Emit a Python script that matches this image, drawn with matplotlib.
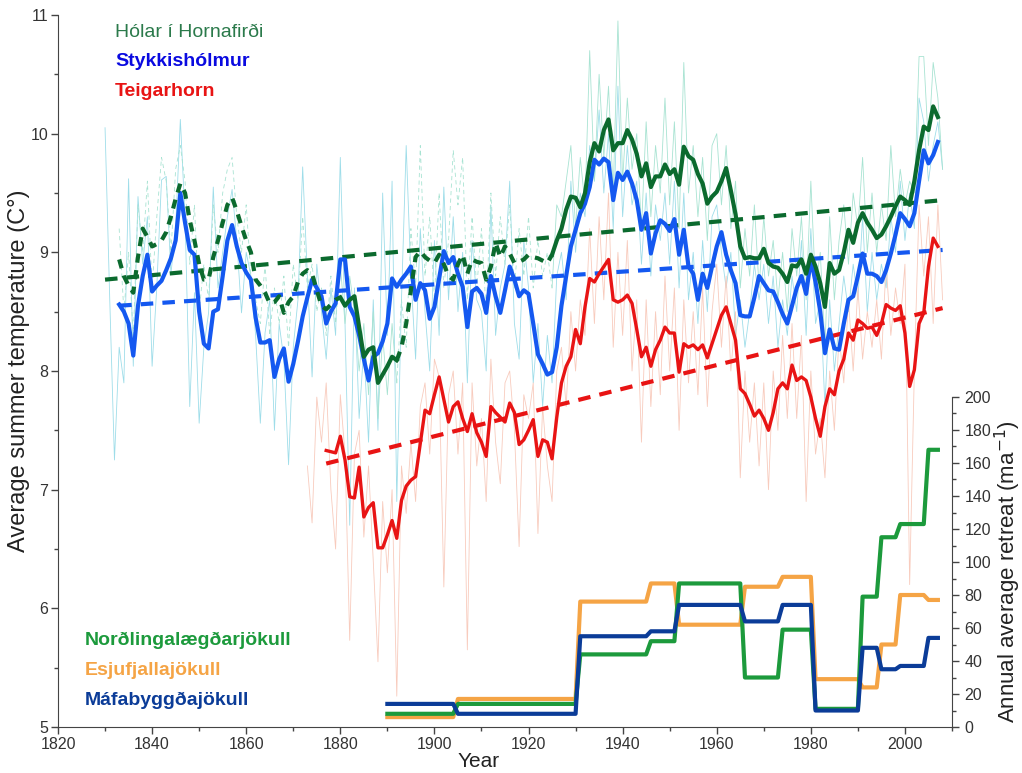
import numpy as np
import matplotlib
matplotlib.use("Agg")
import matplotlib.pyplot as plt

plt.rcParams['font.family'] = ['Liberation Sans', 'DejaVu Sans']

# ---------------- DATA ----------------
# Annual summer temperature, Stykkisholmur (thin cyan), 1830-2008
sty_annual_start = 1830
sty_annual = [
    10.05, 8.6, 7.25, 8.2, 7.9, 9.62, 8.04, 9.47, 8.9, 9.3,
    8.04, 8.71, 9.61, 9.64, 8.82, 9.2, 10.12, 9.3, 7.7, 8.66,
    7.56, 8.2, 8.49, 9.55, 8.7, 9.0, 9.3, 9.53, 9.1, 8.49,
    9.0, 8.8, 8.3, 7.56, 8.32, 8.6, 7.5, 8.4, 8.1, 7.21,
    8.2, 8.6, 9.72, 8.8, 7.95, 8.9, 8.5, 8.1, 8.7, 8.3,
    9.8, 8.4, 6.7, 8.7, 7.6, 8.2, 7.4, 8.6, 7.5, 9.5,
    8.3, 9.6, 6.9, 8.6, 9.9, 8.8, 8.1, 9.2, 8.5, 8.0,
    9.1, 8.3, 9.55, 8.6, 9.3, 8.5, 9.0, 7.9, 9.1, 8.6,
    8.5, 8.0, 9.4, 8.3, 8.7, 8.9, 9.6, 8.4, 8.1, 9.1,
    8.7, 7.9, 8.4, 7.7, 8.3, 7.9, 8.8, 9.0, 8.6, 9.6,
    9.0, 9.5, 9.3, 9.9, 9.6, 10.2, 9.5, 10.0, 9.2, 10.4,
    9.3, 9.9, 9.4, 9.6, 8.9, 9.5, 8.8, 9.4, 9.1, 9.5,
    8.9, 9.6, 8.7, 9.5, 8.6, 9.0, 8.4, 9.1, 8.5, 9.3,
    9.4, 9.0, 8.7, 9.0, 8.3, 8.6, 8.2, 8.5, 8.9, 8.6,
    8.9, 8.4, 8.8, 8.2, 8.6, 8.3, 8.8, 8.5, 9.1, 8.3,
    9.2, 8.4, 8.6, 7.7, 8.6, 8.0, 8.4, 8.8, 8.5, 8.9,
    8.6, 9.3, 8.5, 9.0, 8.6, 8.9, 8.7, 9.3, 9.0, 9.6,
    9.1, 9.5, 9.2, 10.3, 10.1, 9.6, 9.9, 10.1, 9.7,
]

# Annual summer temperature, Holar i Hornafirdi (thin teal), 1833-2008
hol_annual_start = 1833
hol_annual = [
    9.2, 8.5, 9.0, 8.3, 9.4, 9.0, 9.6,
    8.7, 9.3, 9.8, 9.6, 9.0, 9.7, 9.9, 9.6, 8.9, 9.4,
    8.5, 8.9, 8.6, 9.4, 9.0, 9.5, 9.7, 9.8, 9.3, 9.0,
    9.4, 8.8, 8.6, 8.4, 8.9, 8.3, 8.7, 8.4, 8.8, 8.2,
    8.9, 8.6, 9.3, 8.7, 8.9, 8.5, 8.7, 8.3, 8.8, 8.4,
    8.9, 8.4, 8.8, 8.5, 8.0, 8.4, 7.8, 8.5, 7.6, 8.3,
    7.8, 8.4, 7.9, 8.6, 8.2, 9.2, 8.7, 9.9, 8.8, 9.3,
    8.6, 9.5, 8.7, 9.1, 9.86, 9.4, 9.8, 8.6, 9.3, 8.7,
    9.2, 8.5, 9.5, 8.8, 9.3, 8.9, 9.4, 8.7, 9.2, 8.8,
    9.3, 8.7, 9.1, 8.8, 9.0, 8.7, 9.4, 9.3, 9.6, 9.9,
    9.2, 9.8, 9.4, 10.7, 9.6, 10.5, 9.8, 10.4, 9.5, 10.95,
    9.6, 10.3, 9.7, 10.0, 9.2, 10.1, 9.3, 9.9, 9.5, 10.3,
    9.4, 10.1, 9.2, 10.6, 9.5, 9.9, 9.3, 9.8, 9.1, 9.9,
    10.0, 9.4, 9.9, 9.2, 9.6, 8.7, 9.2, 8.8, 9.4, 8.7,
    9.3, 8.8, 9.1, 8.6, 9.0, 8.5, 9.2, 8.8, 9.3, 8.6,
    9.6, 8.7, 9.0, 8.2, 9.3, 8.6, 9.1, 9.4, 8.9, 9.5,
    9.2, 9.8, 9.0, 9.5, 9.0, 9.4, 9.1, 9.9, 9.3, 9.7,
    9.4, 9.6, 9.5, 10.65, 10.65, 9.9, 10.6, 10.3, 9.7,
]

# Annual summer temperature, Teigarhorn (thin salmon), 1873-2008
tei_annual_start = 1873
tei_annual = [
    7.2, 6.72, 7.78, 7.4, 7.9, 7.0, 6.5,
    7.8, 7.3, 5.73, 7.3, 7.5, 6.6, 7.2, 6.4, 5.55, 6.9,
    6.3, 7.0, 5.26, 7.2, 6.8, 7.4, 6.9, 7.7, 7.9, 7.3,
    8.1, 7.95, 6.18, 7.8, 8.0, 7.3, 7.9, 5.65, 7.9, 7.2,
    7.6, 6.9, 8.1, 7.4, 7.05, 7.9, 8.0, 7.5, 6.52, 7.8,
    7.6, 7.9, 6.63, 7.7, 7.2, 6.9, 8.0, 8.2, 7.7, 8.5,
    8.0, 8.6, 8.3, 9.2, 8.4, 9.3, 8.6, 9.5, 8.2, 9.0,
    8.3, 9.1, 8.0, 8.6, 7.4, 8.6, 7.7, 8.5, 7.8, 8.8,
    8.0, 8.7, 7.5, 8.6, 7.9, 8.5, 7.8, 8.7, 7.7, 8.5,
    8.9, 8.2, 8.8, 8.0, 8.5, 7.1, 8.0, 7.4, 7.9, 7.2,
    7.9, 7.0, 8.0, 7.5, 8.3, 7.6, 8.4, 7.6, 8.3, 6.9,
    8.0, 7.3, 7.6, 7.1, 8.0, 7.5, 8.3, 7.9, 8.6, 8.0,
    8.7, 8.1, 8.5, 8.2, 8.6, 8.1, 8.9, 8.3, 8.7, 8.4,
    8.9, 6.2, 8.0, 9.4, 8.8, 9.3, 8.4, 9.4, 8.6,
]

# Smoothed series (thick lines)
sty_smooth_start = 1833
sty_smooth = [
    8.56, 8.50, 8.40, 8.13, 8.55, 8.80, 8.98,
    8.67, 8.72, 8.76, 8.85, 8.95, 9.10, 9.50, 9.25, 9.02, 8.98,
    8.50, 8.23, 8.19, 8.50, 8.52, 8.80, 9.10, 9.23, 9.05, 8.91,
    8.83, 8.77, 8.45, 8.24, 8.24, 8.26, 7.95, 8.10, 8.19, 7.91,
    8.06, 8.25, 8.46, 8.62, 8.77, 8.70, 8.63, 8.40, 8.50, 8.57,
    8.94, 8.94, 8.54, 8.46, 8.30, 8.10, 7.92, 8.12, 8.15, 8.25,
    8.40, 8.78, 8.71, 8.77, 8.82, 8.88, 8.60, 8.74, 8.68, 8.44,
    8.54, 8.78, 9.01, 8.91, 8.96, 8.82, 8.71, 8.37, 8.67, 8.70,
    8.65, 8.49, 8.80, 8.63, 8.49, 8.68, 8.88, 8.77, 8.63, 8.68,
    8.65, 8.40, 8.14, 8.06, 7.97, 7.99, 8.20, 8.55, 8.80, 9.05,
    9.19, 9.33, 9.41, 9.55, 9.78, 9.74, 9.79, 9.76, 9.44, 9.67,
    9.61, 9.68, 9.58, 9.44, 9.19, 9.33, 8.99, 9.16, 9.27, 9.24,
    9.18, 9.28, 8.98, 9.19, 8.88, 8.82, 8.60, 8.82, 8.70, 8.88,
    9.05, 9.17, 8.98, 8.85, 8.74, 8.47, 8.46, 8.46, 8.62, 8.80,
    8.74, 8.68, 8.67, 8.58, 8.48, 8.40, 8.55, 8.70, 8.80, 8.65,
    8.94, 8.75, 8.50, 8.15, 8.35, 8.19, 8.18, 8.40, 8.60, 8.63,
    8.80, 8.99, 8.82, 8.82, 8.80, 8.75, 8.85, 8.99, 9.15, 9.33,
    9.28, 9.22, 9.33, 9.60, 9.86, 9.75, 9.82, 9.93,
]

hol_smooth_start = 1833
hol_smooth = [
    8.94, 8.80, 8.72, 8.66, 8.96, 9.20, 9.13,
    9.05, 9.07, 9.10, 9.17, 9.30, 9.45, 9.58, 9.50, 9.27, 9.10,
    8.90, 8.77, 8.77, 8.96, 9.10, 9.25, 9.40, 9.46, 9.35, 9.22,
    9.10, 9.00, 8.77, 8.72, 8.66, 8.57, 8.58, 8.63, 8.49, 8.58,
    8.63, 8.75, 8.82, 8.85, 8.82, 8.68, 8.55, 8.52, 8.56, 8.60,
    8.62, 8.55, 8.60, 8.63, 8.37, 8.12, 8.18, 8.20, 7.90, 7.97,
    8.04, 8.12, 8.09, 8.20, 8.40, 8.68, 8.96, 9.01, 8.96, 8.93,
    8.91, 8.98, 8.90, 8.80, 8.77, 8.90, 8.98, 8.82, 8.94, 8.92,
    8.91, 8.77, 8.88, 9.08, 8.96, 9.05, 8.99, 8.91, 8.92, 8.94,
    8.98, 8.96, 8.95, 8.93, 8.91, 8.98, 9.10, 9.20, 9.36, 9.47,
    9.46, 9.38, 9.50, 9.76, 9.92, 9.85, 10.03, 10.12, 9.86, 9.92,
    9.92, 10.03, 9.95, 9.83, 9.64, 9.75, 9.55, 9.64, 9.64, 9.74,
    9.66, 9.70, 9.57, 9.89, 9.81, 9.78, 9.66, 9.58, 9.41, 9.47,
    9.51, 9.60, 9.71, 9.52, 9.32, 9.05, 8.95, 8.96, 8.95, 8.95,
    9.03, 8.91, 8.88, 8.87, 8.82, 8.75, 8.89, 8.88, 8.94, 8.82,
    8.98, 8.88, 8.74, 8.54, 8.91, 8.82, 8.85, 9.00, 9.19, 9.08,
    9.25, 9.33, 9.25, 9.19, 9.12, 9.15, 9.22, 9.30, 9.39, 9.47,
    9.44, 9.40, 9.60, 9.86, 10.06, 10.03, 10.23, 10.14,
]

tei_smooth_start = 1877
tei_smooth = [
    7.33, 7.32, 7.31,
    7.45, 7.25, 6.94, 6.93, 7.19, 6.77, 6.85, 6.89, 6.51, 6.51,
    6.62, 6.74, 6.59, 6.91, 7.03, 7.08, 7.11, 7.39, 7.67, 7.64,
    7.80, 7.95, 7.76, 7.57, 7.70, 7.74, 7.60, 7.49, 7.64, 7.48,
    7.40, 7.28, 7.70, 7.65, 7.61, 7.57, 7.73, 7.65, 7.38, 7.42,
    7.50, 7.59, 7.28, 7.42, 7.40, 7.26, 7.61, 7.90, 8.04, 8.12,
    8.35, 8.23, 8.54, 8.78, 8.75, 8.82, 8.88, 8.94, 8.60, 8.58,
    8.60, 8.64, 8.57, 8.35, 8.12, 8.20, 8.04, 8.18, 8.26, 8.37,
    8.32, 8.32, 7.99, 8.23, 8.20, 8.22, 8.18, 8.22, 8.11, 8.23,
    8.35, 8.47, 8.54, 8.40, 8.26, 7.85, 7.81, 7.72, 7.62, 7.67,
    7.60, 7.50, 7.65, 7.85, 7.90, 7.85, 8.05, 7.92, 7.95, 7.92,
    7.78, 7.60, 7.45, 7.70, 7.85, 7.80, 8.00, 8.10, 8.32, 8.26,
    8.43, 8.40, 8.36, 8.37, 8.30, 8.40, 8.56, 8.53, 8.51, 8.55,
    8.32, 7.87, 8.01, 8.40, 8.49, 8.88, 9.12, 9.05,
]

# Linear trends (end points)
hol_trend_years = [1830, 2008]
hol_trend = [8.77, 9.44]
sty_trend_years = [1833, 2008]
sty_trend = [8.55, 9.02]
tei_trend_years = [1877, 2008]
tei_trend = [7.22, 8.53]

# Glacier annual average retreat (m/a), step vertices
gl_years = [1890, 1904, 1905, 1930, 1931, 1945, 1946, 1951, 1952, 1965, 1966, 1973,
            1974, 1980, 1981, 1990, 1991, 1994, 1995, 1998, 1999, 2004, 2005, 2007]
nord_retreat = [8, 8, 14, 14, 44, 44, 52, 52, 87, 87, 30, 30,
                59, 59, 11, 11, 79, 79, 115, 115, 123, 123, 168, 168]
esju_retreat = [6, 6, 17, 17, 76, 76, 87, 87, 62, 62, 85, 85,
                91, 91, 29, 29, 24, 24, 50, 50, 80, 80, 77, 77]
mafa_retreat = [14, 14, 8, 8, 55, 55, 58, 58, 74, 74, 64, 64,
                74, 74, 10, 10, 48, 48, 35, 35, 37, 37, 54, 54]

# ---------------- STYLE ----------------
c_hol = '#0b6a2e'
c_hol_txt = '#2b7a4b'
c_sty = '#1458f0'
c_sty_txt = '#0a0ae0'
c_tei = '#e81414'
c_cyan = '#9edde9'
c_teal = '#a8e3d2'
c_salmon = '#f8cbbd'
c_nord = '#1c9a3c'
c_esju = '#f5a445'
c_mafa = '#0b3c98'
tick_c = '#333333'

fig = plt.figure(figsize=(10.22, 7.73), dpi=100)
L, B, W = 58 / 1022, 46 / 773, (952 - 58) / 1022
ax = fig.add_axes([L, B, W, (727 - 15) / 773])
ax2 = fig.add_axes([L, B, W, (727 - 397) / 773])
ax2.patch.set_alpha(0)

# thin annual lines
yrs = np.arange(sty_annual_start, sty_annual_start + len(sty_annual))
ax.plot(yrs, sty_annual, color=c_cyan, lw=0.6, zorder=1)

yrs = np.arange(tei_annual_start, tei_annual_start + len(tei_annual))
ax.plot(yrs, tei_annual, color=c_salmon, lw=0.6, zorder=1)

hol_a = np.array(hol_annual)
yrs_h = np.arange(hol_annual_start, hol_annual_start + len(hol_annual))
segments = [(1833, 1880, 'dash'), (1880, 1892, 'solid'), (1892, 1925, 'dash'), (1925, 2008, 'solid')]
for a, b, st in segments:
    m = (yrs_h >= a) & (yrs_h <= b)
    ax.plot(yrs_h[m], hol_a[m], color=c_teal, lw=0.6, zorder=1,
            linestyle=(0, (5, 4)) if st == 'dash' else '-')

# trend lines
ax.plot(hol_trend_years, hol_trend, color=c_hol, lw=3, dashes=(3, 2.2), zorder=3)
ax.plot(sty_trend_years, sty_trend, color=c_sty, lw=3, dashes=(3, 2.2), zorder=3)
ax.plot(tei_trend_years, tei_trend, color=c_tei, lw=3, dashes=(3, 2.2), zorder=3)

# smoothed lines
yrs = np.arange(sty_smooth_start, sty_smooth_start + len(sty_smooth))
ax.plot(yrs, sty_smooth, color=c_sty, lw=3, zorder=4)
yrs = np.arange(tei_smooth_start, tei_smooth_start + len(tei_smooth))
ax.plot(yrs, tei_smooth, color=c_tei, lw=2.4, zorder=4)
hs = np.array(hol_smooth)
yrs = np.arange(hol_smooth_start, hol_smooth_start + len(hol_smooth))
for a, b, st in segments:
    m = (yrs >= a) & (yrs <= b)
    if st == 'dash':
        ax.plot(yrs[m], hs[m], color=c_hol, lw=3, dashes=(2.2, 1.8), zorder=4)
    else:
        ax.plot(yrs[m], hs[m], color=c_hol, lw=3, zorder=5)

# glaciers
ax2.plot(gl_years, esju_retreat, color=c_esju, lw=3, zorder=3)
ax2.plot(gl_years, nord_retreat, color=c_nord, lw=3, zorder=4)
ax2.plot(gl_years, mafa_retreat, color=c_mafa, lw=3, zorder=5)

# axes formatting
for a_ in (ax, ax2):
    a_.set_xlim(1820, 2010)
ax.set_ylim(5, 11)
ax2.set_ylim(0, 200)

ax.spines['top'].set_visible(False)
ax.spines['right'].set_visible(False)
for s in ('top', 'left', 'bottom'):
    ax2.spines[s].set_visible(False)
for s in ('left', 'bottom'):
    ax.spines[s].set_color('#444444')
ax2.spines['right'].set_color('#444444')

ax.set_xticks(np.arange(1820, 2001, 20))
ax.set_xticks(np.arange(1830, 2011, 10), minor=True)
ax.set_yticks(np.arange(5, 11.01, 1))
ax.set_yticks(np.arange(5.5, 11, 1), minor=True)
ax.tick_params(axis='both', which='major', direction='out', length=5, width=1,
               color='#444444', labelcolor=tick_c, labelsize=11.5, pad=2)
ax.tick_params(axis='both', which='minor', direction='out', length=3, width=1, color='#444444')

ax2.set_xticks([])
ax2.yaxis.tick_right()
ax2.yaxis.set_label_position('right')
ax2.set_yticks(np.arange(0, 201, 20))
ax2.set_yticks(np.arange(10, 200, 20), minor=True)
ax2.tick_params(axis='y', which='major', direction='out', length=5, width=1,
                color='#444444', labelcolor=tick_c, labelsize=11.5, pad=4)
ax2.tick_params(axis='y', which='minor', direction='out', length=3, width=1, color='#444444')

ax.set_xlabel('Year', fontsize=15, color='#222222', labelpad=3)
ax.xaxis.set_label_coords(0.47, -0.035)
ax.set_ylabel('Average summer temperature (C°)', fontsize=17, color='#222222')
ax.yaxis.set_label_coords(-0.031, 0.5)
ax2.set_ylabel('Annual average retreat (ma$^{-1}$)', fontsize=16, color='#222222')
ax2.yaxis.set_label_coords(1.046, 0.47)

# legend texts
ax.text(0.0638, 0.976, 'Hólar í Hornafirði', transform=ax.transAxes, color=c_hol_txt,
        fontsize=14, ha='left', va='center')
ax.text(0.0638, 0.935, 'Stykkishólmur', transform=ax.transAxes, color=c_sty_txt,
        fontsize=14, fontweight='bold', ha='left', va='center')
ax.text(0.0638, 0.893, 'Teigarhorn', transform=ax.transAxes, color=c_tei,
        fontsize=14, fontweight='bold', ha='left', va='center')
ax.text(0.0302, 0.122, 'Norðlingalægðarjökull', transform=ax.transAxes, color=c_nord,
        fontsize=14, fontweight='bold', ha='left', va='center')
ax.text(0.0302, 0.080, 'Esjufjallajökull', transform=ax.transAxes, color=c_esju,
        fontsize=14, fontweight='bold', ha='left', va='center')
ax.text(0.0302, 0.038, 'Máfabyggðajökull', transform=ax.transAxes, color=c_mafa,
        fontsize=14, fontweight='bold', ha='left', va='center')

fig.savefig('out.png', dpi=100)
